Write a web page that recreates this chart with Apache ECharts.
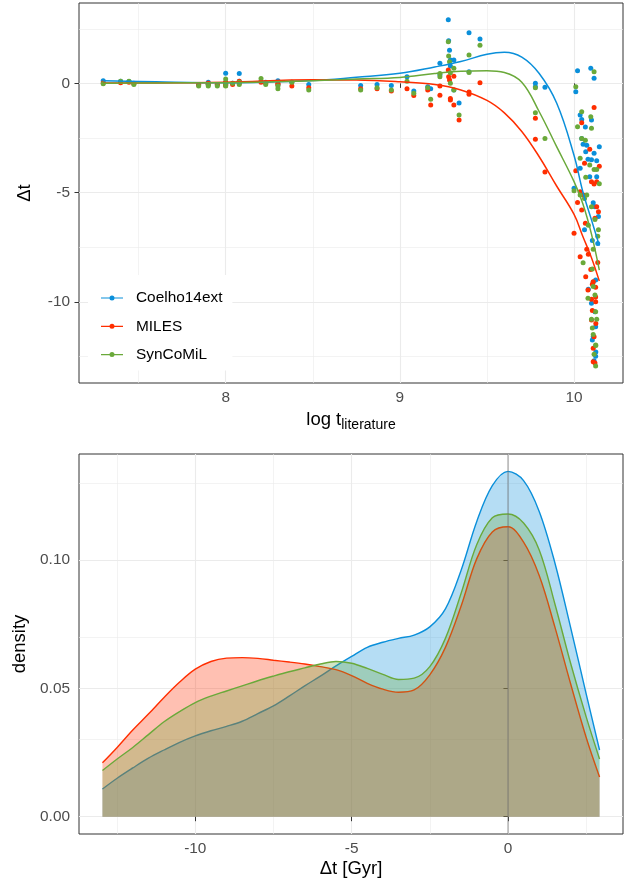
<!DOCTYPE html>
<html><head><meta charset="utf-8">
<script src="https://cdn.jsdelivr.net/npm/echarts@6/dist/echarts.min.js"></script>
<style>html,body{margin:0;padding:0;background:#fff}#c{width:636px;height:888px}</style>
</head><body><div id="c"></div>
<script>
// ---------- data ----------
const libs = ['Coelho14ext', 'MILES', 'SynCoMiL'];
const colors = ['#0A8FDA', '#FF2E00', '#6AA93A'];

// top panel: one entry per star
const logAge = [7.297,7.397,7.445,7.473,7.845,7.900,7.900,7.952,8.000,8.000,8.000,8.040,8.078,8.078,8.203,8.230,8.300,8.300,8.380,8.477,
  8.775,8.869,8.951,9.041,9.080,9.160,9.177,9.230,9.230,9.278,9.280,9.285,9.290,9.290,9.310,9.310,9.340,9.397,9.397,9.460,9.778,9.778,9.833,
  10.000,10.010,10.020,10.035,10.035,10.044,10.044,10.052,10.060,10.067,10.073,10.080,10.082,10.090,10.096,10.100,10.100,10.100,10.105,10.110,
  10.110,10.115,10.115,10.115,10.120,10.120,10.124,10.124,10.124,10.130,10.130,10.136,10.140,10.145,10.110,10.105,10.065,10.125];
const dtCoelho = [0.12,0.10,0.08,0.00,-0.05,0.05,-0.05,-0.05,0.46,0.05,-0.05,0.00,0.45,0.10,0.10,0.05,0.12,-0.05,0.05,-0.05,
  -0.10,-0.05,-0.10,0.30,-0.35,-0.15,-0.25,0.92,0.40,2.91,1.95,1.52,1.07,0.80,1.07,-0.30,-0.90,2.32,0.53,2.03,0.00,-0.15,-0.18,
  -4.80,-0.38,0.58,-3.89,-1.45,-1.65,-2.52,-2.79,-6.70,-3.13,-2.83,-3.48,-9.43,-4.28,0.69,-3.50,-10.07,-1.68,-7.20,-5.47,
  -11.60,0.23,-3.20,-12.70,-10.46,-5.65,-9.00,-11.14,-12.50,-3.54,-4.28,-7.33,-6.10,-2.90,-9.10,-11.75,-2.00,-12.30];
const dtMiles = [0.02,0.03,0.05,-0.02,-0.08,0.00,-0.05,-0.05,0.05,-0.05,-0.10,-0.05,0.10,0.00,0.05,0.00,-0.05,0.00,-0.12,-0.20,
  -0.25,-0.25,-0.35,-0.25,-0.55,-0.30,-0.99,-0.12,-0.54,0.61,0.30,0.15,-0.69,-0.76,0.33,-0.99,-1.68,-0.40,-0.50,0.03,-1.60,-2.56,-4.06,
  -6.86,-4.00,-5.45,-4.96,-7.94,-1.80,-5.80,-5.11,-3.66,-8.85,-7.60,-9.46,-7.82,-3.02,-8.52,-9.89,-10.84,-4.50,-9.20,-9.08,
  -12.13,-1.10,-4.61,-11.60,-12.80,-6.18,-9.34,-9.78,-10.00,-4.50,-5.65,-8.20,-5.88,-3.80,-12.75,-10.40,-6.40,-11.00];
const dtSyn = [-0.02,0.10,0.10,-0.05,-0.12,-0.05,-0.12,-0.12,0.20,0.00,-0.12,0.00,0.05,-0.05,0.22,-0.05,-0.12,-0.25,0.05,-0.30,
  -0.30,-0.20,-0.30,0.10,-0.45,-0.20,-0.73,0.45,0.30,1.90,1.25,0.99,0.49,0.00,0.69,-0.30,-1.45,1.30,0.50,1.75,-1.35,-0.20,-2.52,
  -4.92,-0.15,-1.99,-5.11,-3.43,-2.52,-1.30,-8.21,-5.27,-4.30,-5.11,-9.84,-6.50,-3.74,-1.53,-5.65,-10.80,-2.06,-8.50,-7.60,
  -11.50,0.53,-3.94,-12.40,-9.69,-6.23,-11.98,-10.46,-12.94,-3.94,-10.80,-7.00,-6.70,-4.60,-9.30,-11.20,-2.60,-12.00];

// smooth fits
const fitX      = [7.297,7.6,8.0,8.5,8.75,9.0,9.2,9.35,9.5,9.6,9.7,9.8,9.9,10.0,10.05,10.1,10.145];
const fitCoelho = [0.12,0.07,0.03,0.13,0.28,0.46,0.75,1.00,1.33,1.42,1.20,0.45,-0.90,-3.30,-4.95,-6.25,-7.42];
const fitMiles  = [0.02,0.02,0.05,0.16,0.15,0.07,-0.05,-0.30,-0.78,-1.35,-2.20,-3.36,-4.70,-6.00,-7.00,-7.98,-9.05];
const fitSyn    = [0.00,0.02,0.03,0.12,0.20,0.27,0.45,0.55,0.58,0.50,0.05,-1.30,-2.90,-4.50,-5.50,-6.90,-8.55];

// bottom panel: densities
const densX      = [-12.97,-12.5,-12,-11.5,-11,-10.5,-10,-9.5,-9,-8.5,-8,-7.5,-7,-6.5,-6,-5.5,-5,-4.5,-4,-3.5,-3,-2.5,-2,-1.5,-1,-0.5,0,0.5,1,1.5,2,2.5,2.93];
const densCoelho = [0.0108,0.015,0.019,0.0228,0.026,0.029,0.0315,0.0335,0.0352,0.0372,0.0402,0.0432,0.047,0.051,0.0548,0.0588,0.0625,0.066,0.068,0.0695,0.0708,0.074,0.081,0.096,0.115,0.129,0.1346,0.131,0.119,0.099,0.074,0.048,0.026];
const densMiles  = [0.021,0.027,0.0338,0.040,0.0465,0.0525,0.0575,0.0605,0.0618,0.062,0.0617,0.061,0.0603,0.0595,0.0585,0.0573,0.055,0.052,0.0497,0.0485,0.0494,0.0553,0.066,0.082,0.1005,0.111,0.113,0.107,0.094,0.074,0.052,0.031,0.0155];
const densSyn    = [0.018,0.0225,0.027,0.032,0.037,0.041,0.0445,0.047,0.049,0.051,0.053,0.0548,0.0565,0.058,0.0595,0.0605,0.0598,0.0578,0.0555,0.0535,0.054,0.0585,0.0695,0.087,0.106,0.1165,0.118,0.1145,0.104,0.083,0.060,0.039,0.0225];

// axis ticks
const topXTicks = [8, 9, 10], topXMinor = [7.5, 8.5, 9.5];
const topYTicks = [-10, -5, 0], topYMinor = [-12.5, -7.5, -2.5, 2.5];
const botXTicks = [-10, -5, 0], botXMinor = [-12.5, -7.5, -2.5, 2.5];
const botYTicks = [0, 0.05, 0.10], botYMinor = [0.025, 0.075, 0.125];

// ---------- chart ----------
const FONT = '"Liberation Sans", Arial, Helvetica, sans-serif';
const zip = (a, b) => a.map((v, i) => [v, b[i]]);
const chart = echarts.init(document.getElementById('c'));

function gridLines(idx, mx, mnx, my, mny) {
  const mk = (arr, key, w) => arr.map(v => ({ [key]: v, lineStyle: { width: w, color: '#EBEBEB', type: 'solid' } }));
  return {
    type: 'line', name: 'grid' + idx, xAxisIndex: idx, yAxisIndex: idx, data: [], silent: true, z: 0,
    markLine: { z: 0, silent: true, symbol: ['none', 'none'], label: { show: false }, animation: false,
      data: [...mk(mnx, 'xAxis', 0.6), ...mk(mny, 'yAxis', 0.6), ...mk(mx, 'xAxis', 1.1), ...mk(my, 'yAxis', 1.1)] }
  };
}
const tick = vals => ({ show: true, customValues: vals, length: 4.5, lineStyle: { color: '#333333', width: 1 } });
const lab = (vals, m, fmt) => ({ customValues: vals, color: '#4D4D4D', fontSize: 15.4, fontFamily: FONT, margin: m, formatter: fmt });
const titleStyle = { fontSize: 18.5, color: '#000', fontFamily: FONT };

const yTop = [dtCoelho, dtMiles, dtSyn];
const fitTop = [fitCoelho, fitMiles, fitSyn];
const dens = [densCoelho, densMiles, densSyn];

const series = [gridLines(0, topXTicks, topXMinor, topYTicks, topYMinor), gridLines(1, botXTicks, botXMinor, botYTicks, botYMinor)];
libs.forEach((n, i) => series.push({
  type: 'scatter', name: n, xAxisIndex: 0, yAxisIndex: 0, data: zip(logAge, yTop[i]),
  symbolSize: 5, itemStyle: { color: colors[i], opacity: 1 }, z: 2
}));
libs.forEach((n, i) => series.push({
  type: 'line', name: n, xAxisIndex: 0, yAxisIndex: 0, data: zip(fitX, fitTop[i]), smooth: 0.4,
  showSymbol: false, symbol: 'none', lineStyle: { color: colors[i], width: 1.5 }, itemStyle: { color: colors[i] }, z: 3
}));
libs.forEach((n, i) => series.push({
  type: 'line', name: n, xAxisIndex: 1, yAxisIndex: 1, data: zip(densX, dens[i]), smooth: 0.35,
  showSymbol: false, symbol: 'none', lineStyle: { color: colors[i], width: 1.4 },
  areaStyle: { color: colors[i], opacity: 0.3 }, itemStyle: { color: colors[i] }, z: 2 + i * 0.01
}));
series.push({
  type: 'line', name: 'vline', xAxisIndex: 1, yAxisIndex: 1, data: [], silent: true, z: 5,
  markLine: { z: 10, silent: true, symbol: ['none', 'none'], label: { show: false }, animation: false,
    data: [{ xAxis: 0, lineStyle: { color: 'rgba(110,110,110,0.45)', width: 1.6, type: 'solid' } }] }
});

chart.setOption({
  animation: false,
  backgroundColor: '#fff',
  textStyle: { fontFamily: FONT },
  grid: [
    { left: 79, top: 3, width: 544, height: 380, show: true, borderColor: '#333333', borderWidth: 1, backgroundColor: 'transparent' },
    { left: 79, top: 454, width: 544, height: 380, show: true, borderColor: '#333333', borderWidth: 1, backgroundColor: 'transparent' }
  ],
  xAxis: [
    { gridIndex: 0, type: 'value', min: 7.158, max: 10.281, axisLine: { show: false }, splitLine: { show: false },
      axisTick: tick(topXTicks), axisLabel: lab(topXTicks, 7),
      name: '{a|log t}{b|literature}', nameLocation: 'middle', nameGap: 25,
      nameTextStyle: { rich: { a: { fontSize: 18.5, color: '#000', fontFamily: FONT }, b: { fontSize: 14, color: '#000', fontFamily: FONT, padding: [10, 0, 0, 0] } } } },
    { gridIndex: 1, type: 'value', min: -13.72, max: 3.68, axisLine: { show: false }, splitLine: { show: false },
      axisTick: tick(botXTicks), axisLabel: lab(botXTicks, 7),
      name: 'Δt [Gyr]', nameLocation: 'middle', nameGap: 25, nameTextStyle: titleStyle }
  ],
  yAxis: [
    { gridIndex: 0, type: 'value', min: -13.72, max: 3.68, axisLine: { show: false }, splitLine: { show: false },
      axisTick: tick(topYTicks), axisLabel: lab(topYTicks, 9),
      name: 'Δt', nameLocation: 'middle', nameRotate: 90, nameGap: 45, nameTextStyle: titleStyle },
    { gridIndex: 1, type: 'value', min: -0.00674, max: 0.14137, axisLine: { show: false }, splitLine: { show: false },
      axisTick: tick(botYTicks), axisLabel: lab(botYTicks, 9, v => v.toFixed(2)),
      name: 'density', nameLocation: 'middle', nameRotate: 90, nameGap: 45, nameTextStyle: titleStyle }
  ],
  legend: {
    data: libs, orient: 'vertical', left: 88, top: 275, backgroundColor: '#fff',
    padding: [15, 10, 8, 13], itemGap: 12.3, itemWidth: 22, itemHeight: 5,
    icon: 'path://M0,2.4 L22,2.4 L22,3.6 L0,3.6 Z M13.5,3 A2.5,2.5 0 1 1 8.5,3 A2.5,2.5 0 1 1 13.5,3 Z',
    textStyle: { fontSize: 15.4, color: '#000', fontFamily: FONT, lineHeight: 16, padding: [0, 0, 0, 8] },
    selectedMode: false
  },
  series: series
});
</script>
</body></html>
